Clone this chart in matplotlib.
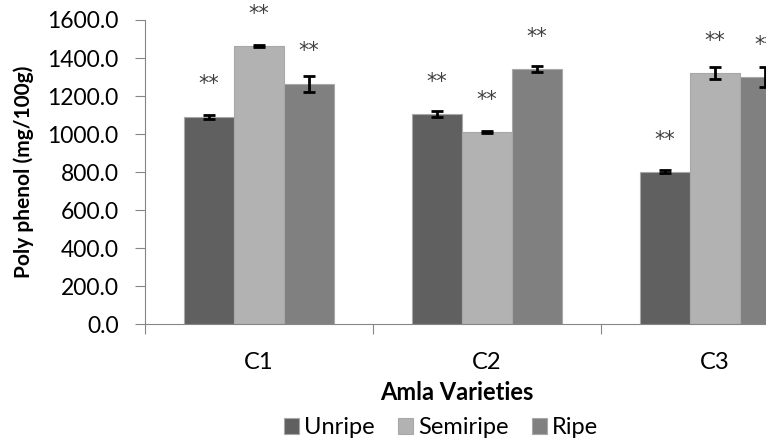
import matplotlib.pyplot as plt
import numpy as np

# data
varieties = ["C1", "C2", "C3"]
stages = ["Unripe", "Semiripe", "Ripe"]
unripe = [1091, 1104, 801]
semiripe = [1462, 1009, 1320]
ripe = [1265, 1341, 1300]
unripe_err = [12, 16, 8]
semiripe_err = [5, 5, 31]
ripe_err = [41, 17, 53]
yticks = [0, 200, 400, 600, 800, 1000, 1200, 1400, 1600]

colors = ["#606060", "#b2b2b2", "#808080"]
plt.rcParams["font.family"] = ["Lato", "DejaVu Sans"]

fig = plt.figure(figsize=(7.66, 4.42), dpi=100)
ax = fig.add_axes([145 / 766, 1 - 324.3 / 442, 684 / 766, 304.3 / 442])

x = np.arange(len(varieties))
w = 0.22
series = [unripe, semiripe, ripe]
errs = [unripe_err, semiripe_err, ripe_err]
for i, (vals, err) in enumerate(zip(series, errs)):
    pos = x + (i - 1) * w
    ax.bar(pos, vals, w, color=colors[i], edgecolor="#a8a8a8", linewidth=0.8,
           label=stages[i], zorder=2)
    ax.errorbar(pos, vals, yerr=err, fmt="none", ecolor="black", elinewidth=2,
                capsize=4.5, capthick=2, zorder=3)
    for p, v in zip(pos, vals):
        ax.text(p, v + 170, "**", ha="center", va="center", fontsize=15,
                color="#404040", family="DejaVu Sans", clip_on=False)

ax.set_xlim(-0.5, 2.5)
ax.set_ylim(0, 1600)
ax.set_yticks(yticks)
ax.set_yticklabels([f"{v:.1f}" for v in yticks], fontsize=16.5)
ax.set_xticks([-0.5, 0.5, 1.5, 2.5])
ax.set_xticklabels([])
ax.set_xticks(x, minor=True)
ax.set_xticklabels(varieties, minor=True, fontsize=17)
ax.tick_params(axis="x", which="minor", length=0, pad=20)
ax.tick_params(axis="x", which="major", length=7, color="#868686")
ax.tick_params(axis="y", length=7, color="#868686", pad=12)

for s in ["top", "right"]:
    ax.spines[s].set_visible(False)
for s in ["left", "bottom"]:
    ax.spines[s].set_color("#868686")

fig.text(24 / 766, 1 - 172 / 442, "Poly phenol (mg/100g)", rotation=90,
         ha="center", va="center", fontsize=15, fontweight="bold")
fig.text(457 / 766, 1 - 392 / 442, "Amla Varieties", ha="center",
         va="center", fontsize=17, fontweight="bold")

h, l = ax.get_legend_handles_labels()
fig.legend(h, l, loc="center", bbox_to_anchor=(441 / 766, 1 - 428 / 442),
           ncol=3, frameon=False, fontsize=17, handlelength=0.65,
           handleheight=0.65, handletextpad=0.2, columnspacing=1.0,
           borderpad=0)

fig.savefig("out.png", dpi=100)
